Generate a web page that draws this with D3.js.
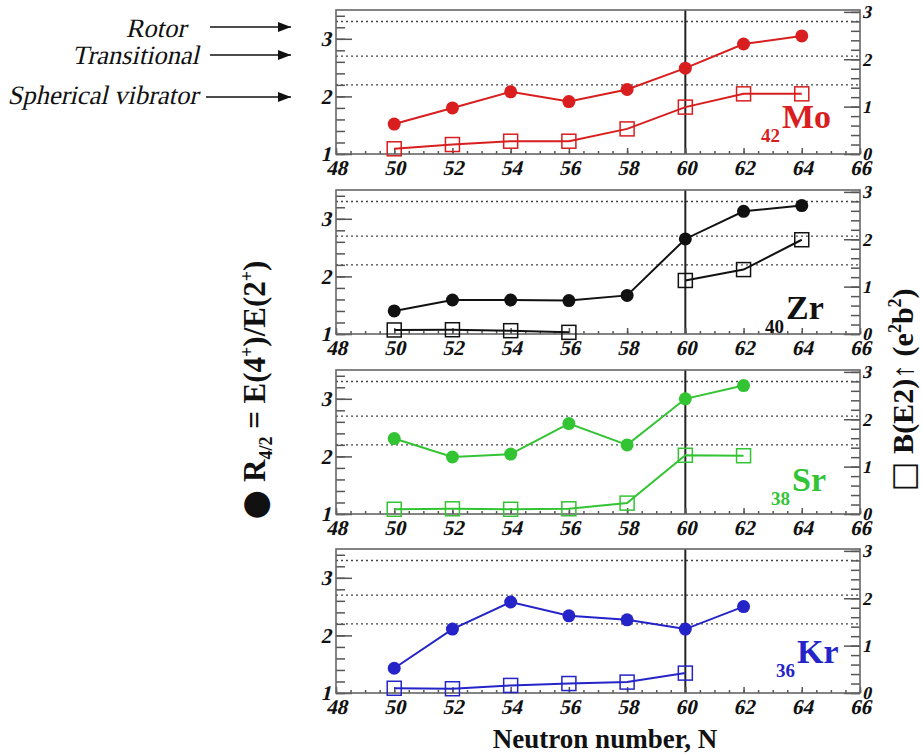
<!DOCTYPE html>
<html>
<head>
<meta charset="utf-8">
<script src="https://cdn.jsdelivr.net/npm/d3@7"></script>
<style>
  html, body { margin: 0; padding: 0; background: #fff; }
  svg { display: block; }
  svg text { font-family: "Liberation Serif", "Times New Roman", "DejaVu Serif", serif; }
</style>
</head>
<body>
<svg id="chart" width="922" height="754"></svg>
<script>
// ---------------- data ----------------
const neutrons = [50, 52, 54, 56, 58, 60, 62, 64];
const elements = ["Mo", "Zr", "Sr", "Kr"];
const protonNumbers = ["42", "40", "38", "36"];
const colors = ["#d81e1e", "#111111", "#33c433", "#2424c8"];
// R4/2 = E(4+)/E(2+)  (filled circles, left axis)
const moR = [1.52, 1.80, 2.08, 1.91, 2.12, 2.49, 2.91, 3.05];
const zrR = [1.40, 1.59, 1.59, 1.58, 1.67, 2.65, 3.13, 3.23];
const srR = [2.31, 1.99, 2.04, 2.57, 2.20, 3.00, 3.23, null];
const krR = [1.43, 2.11, 2.58, 2.34, 2.27, 2.11, 2.50, null];
// B(E2)↑ (e²b²)  (open squares, right axis)
const moB = [0.11, 0.20, 0.27, 0.27, 0.53, 0.99, 1.27, 1.27];
const zrB = [0.085, 0.09, 0.07, 0.035, null, 1.13, 1.36, 1.99];
const srB = [0.10, 0.11, 0.10, 0.11, 0.23, 1.24, 1.23, null];
const krB = [0.10, 0.09, 0.16, 0.20, 0.23, 0.42, null, null];
const rSeries = [moR, zrR, srR, krR];
const bSeries = [moB, zrB, srB, krB];
// ticks and reference levels
const xTicks = [48, 50, 52, 54, 56, 58, 60, 62, 64, 66];
const leftTicks = [1, 2, 3];
const rightTicks = [0, 1, 2, 3];
const refLevels = [3.3, 2.7, 2.2];
const refLabels = ["Rotor", "Transitional", "Spherical vibrator"];
const criticalN = [60];

// ---------------- layout ----------------
const SERIF = "'Liberation Serif', 'Times New Roman', 'DejaVu Serif', serif";
const svg = d3.select("#chart");
const plotLeft = 336, plotRight = 860;
const panelTops = [10, 190, 370, 549];
const panelH = 144;
const elemLabelLift = [26, 15, 23, 30];
const elemLabelX = [782, 786, 792, 797];

const x = d3.scaleLinear().domain([48, 66]).range([plotLeft, plotRight]);
const tickColor = "#555";

// synthetic italic (slant upright serif glyphs about their baseline)
const SLANT = Math.tan(13 * Math.PI / 180);
function slant(sel) {
  sel.each(function () {
    const bb = this.getBBox();
    const base = bb.y + bb.height * 0.8;
    d3.select(this).attr("transform", `translate(${SLANT * base},0) skewX(-13)`);
  });
}

panelTops.forEach((top, i) => {
  const bottom = top + panelH;
  const yL = d3.scaleLinear().domain([1, 3.5]).range([bottom, top]);
  const yR = d3.scaleLinear().domain([0, 3.04]).range([bottom, top]);
  const g = svg.append("g");

  // reference dotted lines
  g.selectAll("line.ref").data(refLevels).enter().append("line")
    .attr("x1", plotLeft).attr("x2", plotRight)
    .attr("y1", d => yL(d)).attr("y2", d => yL(d))
    .attr("stroke", "#444").attr("stroke-width", 1.4).attr("stroke-dasharray", "2,3");

  // N = 60 vertical line
  g.selectAll("line.crit").data(criticalN).enter().append("line")
    .attr("x1", d => x(d)).attr("x2", d => x(d))
    .attr("y1", top).attr("y2", bottom)
    .attr("stroke", "#222").attr("stroke-width", 2);

  // left axis minor & major
  const lMinor = g.append("g").attr("transform", `translate(${plotLeft},0)`)
    .call(d3.axisLeft(yL).tickValues(d3.range(1, 3.5, 0.2)).tickSize(-9).tickFormat(""));
  const lMajor = g.append("g").attr("transform", `translate(${plotLeft},0)`)
    .call(d3.axisLeft(yL).tickValues(leftTicks).tickSize(-16).tickPadding(5).tickFormat(d3.format("d")));
  // right axis
  const rMinor = g.append("g").attr("transform", `translate(${plotRight},0)`)
    .call(d3.axisRight(yR).tickValues(d3.range(0, 3.04, 0.2)).tickSize(-9).tickFormat(""));
  const rMajor = g.append("g").attr("transform", `translate(${plotRight},0)`)
    .call(d3.axisRight(yR).tickValues(rightTicks).tickSize(-16).tickPadding(3).tickFormat(d3.format("d")));
  // bottom axis
  const bMinor = g.append("g").attr("transform", `translate(0,${bottom})`)
    .call(d3.axisBottom(x).tickValues(d3.range(48, 66.01, 0.5)).tickSize(-3).tickFormat(""));
  const bMajor = g.append("g").attr("transform", `translate(0,${bottom})`)
    .call(d3.axisBottom(x).tickValues(xTicks).tickSize(-6).tickPadding(3).tickFormat(d3.format("d")));

  [lMinor, lMajor, rMinor, rMajor, bMinor, bMajor].forEach(a => {
    a.attr("font-family", SERIF);
    a.select(".domain").remove();
    a.selectAll(".tick line").attr("stroke", tickColor).attr("stroke-width", 1.5);
    a.selectAll("text")
      .attr("font-family", SERIF).attr("font-weight", "bold")
      .attr("font-size", 21).attr("fill", "#111");
  });
  bMajor.selectAll("text").attr("dy", "0.88em");
  rMajor.selectAll("text").attr("font-size", 18).attr("dx", "-1");
  [lMajor, rMajor, bMajor].forEach(a => a.selectAll("text").call(slant));

  // frame
  g.append("rect").attr("x", plotLeft).attr("y", top)
    .attr("width", plotRight - plotLeft).attr("height", panelH)
    .attr("fill", "none").attr("stroke", "#666").attr("stroke-width", 1.6);

  const col = colors[i];
  const rData = neutrons.map((n, k) => ({ n, v: rSeries[i][k] }));
  const bData = neutrons.map((n, k) => ({ n, v: bSeries[i][k] }));

  // B(E2) line + open squares
  g.append("path").datum(bData)
    .attr("d", d3.line().defined(d => d.v !== null).x(d => x(d.n)).y(d => yR(d.v)))
    .attr("fill", "none").attr("stroke", col).attr("stroke-width", 2);
  g.selectAll("rect.sq").data(bData.filter(d => d.v !== null)).enter().append("rect")
    .attr("x", d => x(d.n) - 7).attr("y", d => yR(d.v) - 7)
    .attr("width", 14).attr("height", 14)
    .attr("fill", "none").attr("stroke", col).attr("stroke-width", 1.5);

  // R4/2 line + filled circles
  g.append("path").datum(rData)
    .attr("d", d3.line().defined(d => d.v !== null).x(d => x(d.n)).y(d => yL(d.v)))
    .attr("fill", "none").attr("stroke", col).attr("stroke-width", 2);
  g.selectAll("circle.pt").data(rData.filter(d => d.v !== null)).enter().append("circle")
    .attr("cx", d => x(d.n)).attr("cy", d => yL(d.v)).attr("r", 6.5)
    .attr("fill", col);

  // element label
  const base = bottom - elemLabelLift[i];
  g.append("text").attr("x", elemLabelX[i]).attr("y", base)
    .attr("font-family", SERIF)
    .attr("fill", col).attr("font-weight", "bold").attr("font-size", 34)
    .text(elements[i]);
  g.append("text").attr("x", elemLabelX[i] - 2).attr("y", base + 14)
    .attr("text-anchor", "end").attr("font-family", SERIF)
    .attr("fill", col).attr("font-weight", "bold").attr("font-size", 19)
    .text(protonNumbers[i]);
});

// ---------------- annotations (left of top panel) ----------------
svg.append("defs").append("marker")
  .attr("id", "arr").attr("viewBox", "0 0 13 10").attr("refX", 13).attr("refY", 5)
  .attr("markerWidth", 13).attr("markerHeight", 10).attr("markerUnits", "userSpaceOnUse")
  .attr("orient", "auto")
  .append("path").attr("d", "M0,0 L13,5 L0,10 Z").attr("fill", "#111");
const annotY = [27, 55, 97];
const annotBaseline = [37, 64, 104];
const annotTextEnd = [186, 199, 198];
const arrowStart = [210, 210, 206];
refLabels.forEach((t, k) => {
  svg.append("text").attr("x", annotTextEnd[k]).attr("y", annotBaseline[k])
    .attr("text-anchor", "end").attr("font-family", SERIF)
    .attr("font-size", 26.5)
    .attr("fill", "#111").text(t)
    .call(slant);
  svg.append("line").attr("x1", arrowStart[k]).attr("x2", 291)
    .attr("y1", annotY[k]).attr("y2", annotY[k])
    .attr("stroke", "#111").attr("stroke-width", 1.6).attr("marker-end", "url(#arr)");
});

// ---------------- axis titles ----------------
svg.append("text").attr("x", 605).attr("y", 748).attr("text-anchor", "middle")
  .attr("font-family", SERIF)
  .attr("font-weight", "bold").attr("font-size", 27).attr("fill", "#111")
  .text("Neutron number, N");

const leftTitle = svg.append("text")
  .attr("transform", "translate(265,390) rotate(-90)")
  .attr("font-family", SERIF)
  .attr("text-anchor", "middle").attr("font-weight", "bold").attr("font-size", 31).attr("fill", "#111");
leftTitle.append("tspan").attr("font-size", 34).attr("font-family", "'DejaVu Sans', sans-serif").attr("dy", 1).text("\u25CF");
leftTitle.append("tspan").attr("dy", -1).text(" R");
leftTitle.append("tspan").attr("font-size", 18).attr("dy", 7).text("4/2");
leftTitle.append("tspan").attr("dy", -7).text(" = E(4");
leftTitle.append("tspan").attr("font-size", 18).attr("dy", -12).text("+");
leftTitle.append("tspan").attr("dy", 12).text(")/E(2");
leftTitle.append("tspan").attr("font-size", 18).attr("dy", -12).text("+");
leftTitle.append("tspan").attr("dy", 12).text(")");

const rightTitle = svg.append("text")
  .attr("transform", "translate(913,390) rotate(-90)")
  .attr("font-family", SERIF)
  .attr("text-anchor", "middle").attr("font-weight", "bold").attr("font-size", 30).attr("fill", "#111");
rightTitle.append("tspan").attr("font-size", 32).attr("font-family", "'DejaVu Sans', sans-serif").attr("dy", 1).text("\u25A1");
rightTitle.append("tspan").attr("dy", -1).text(" B(E2)\u2191 (e");
rightTitle.append("tspan").attr("font-size", 18).attr("dy", -12).text("2");
rightTitle.append("tspan").attr("dy", 12).text("b");
rightTitle.append("tspan").attr("font-size", 18).attr("dy", -12).text("2");
rightTitle.append("tspan").attr("dy", 12).text(")");
</script>
</body>
</html>
